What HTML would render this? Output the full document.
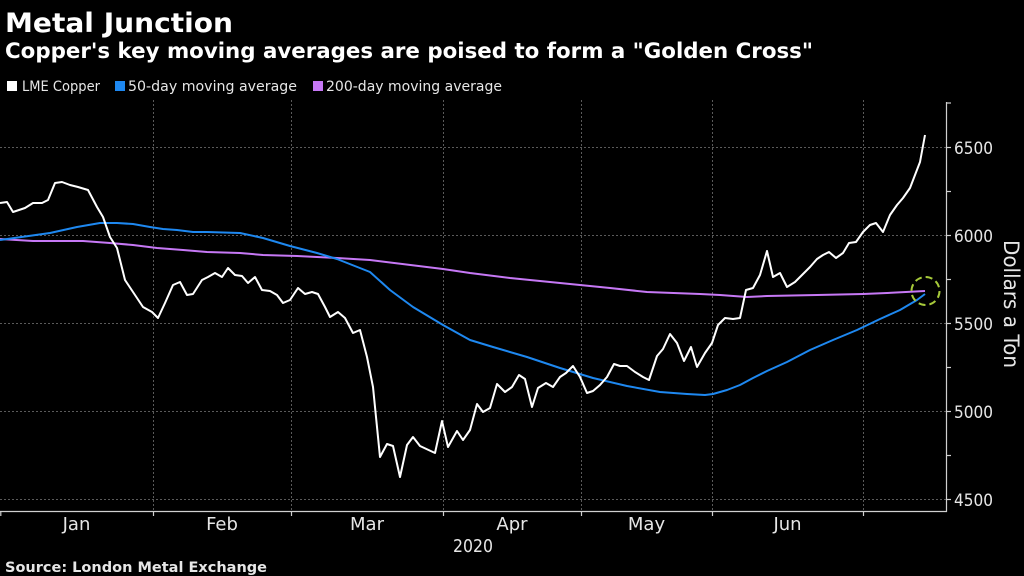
<!DOCTYPE html>
<html>
<head>
<meta charset="utf-8">
<style>
html,body{margin:0;padding:0;background:#000;}
svg{display:block;}
text{font-family:"DejaVu Sans","Liberation Sans",sans-serif;}
</style>
</head>
<body>
<svg width="1024" height="576" viewBox="0 0 1024 576" xmlns="http://www.w3.org/2000/svg">
<rect x="0" y="0" width="1024" height="576" fill="#000"/>

<!-- Titles -->
<text x="5" y="32" font-size="27" font-weight="bold" fill="#fff" textLength="228" lengthAdjust="spacingAndGlyphs">Metal Junction</text>
<text x="5" y="58" font-size="21" font-weight="bold" fill="#fff" textLength="808" lengthAdjust="spacingAndGlyphs">Copper's key moving averages are poised to form a "Golden Cross"</text>

<!-- Legend -->
<rect x="7" y="81" width="10" height="10" fill="#ffffff"/>
<text x="22" y="91" font-size="14" fill="#e6e6e6" textLength="78" lengthAdjust="spacingAndGlyphs">LME Copper</text>
<rect x="115" y="81" width="10" height="10" fill="#1e88f0"/>
<text x="128" y="91" font-size="14" fill="#e6e6e6" textLength="169" lengthAdjust="spacingAndGlyphs">50-day moving average</text>
<rect x="313" y="81" width="10" height="10" fill="#c678f5"/>
<text x="326" y="91" font-size="14" fill="#e6e6e6" textLength="176" lengthAdjust="spacingAndGlyphs">200-day moving average</text>

<!-- Grid -->
<g stroke="#5a5a5a" stroke-width="1" stroke-dasharray="2 2">
<line x1="0" y1="147.5" x2="946" y2="147.5"/>
<line x1="0" y1="235.5" x2="946" y2="235.5"/>
<line x1="0" y1="323.5" x2="946" y2="323.5"/>
<line x1="0" y1="411.5" x2="946" y2="411.5"/>
<line x1="0" y1="499.5" x2="946" y2="499.5"/>
<line x1="153.5" y1="100" x2="153.5" y2="511"/>
<line x1="291.5" y1="100" x2="291.5" y2="511"/>
<line x1="443.5" y1="100" x2="443.5" y2="511"/>
<line x1="581.5" y1="100" x2="581.5" y2="511"/>
<line x1="712.5" y1="100" x2="712.5" y2="511"/>
<line x1="863.5" y1="100" x2="863.5" y2="511"/>
</g>

<!-- Axes -->
<g stroke="#d0d0d0" stroke-width="1.2">
<line x1="946.5" y1="102" x2="946.5" y2="512"/>
<line x1="0" y1="511.5" x2="947" y2="511.5"/>
<line x1="0.8" y1="511" x2="0.8" y2="516"/>
<line x1="153.5" y1="511" x2="153.5" y2="516"/>
<line x1="291.5" y1="511" x2="291.5" y2="516"/>
<line x1="443.5" y1="511" x2="443.5" y2="516"/>
<line x1="581.5" y1="511" x2="581.5" y2="516"/>
<line x1="712.5" y1="511" x2="712.5" y2="516"/>
<line x1="863.5" y1="511" x2="863.5" y2="516"/>
<line x1="946" y1="103" x2="951" y2="103"/>
<line x1="946" y1="147.5" x2="951" y2="147.5"/>
<line x1="946" y1="191.5" x2="951" y2="191.5"/>
<line x1="946" y1="235.5" x2="951" y2="235.5"/>
<line x1="946" y1="279.5" x2="951" y2="279.5"/>
<line x1="946" y1="323.5" x2="951" y2="323.5"/>
<line x1="946" y1="367.5" x2="951" y2="367.5"/>
<line x1="946" y1="411.5" x2="951" y2="411.5"/>
<line x1="946" y1="455.5" x2="951" y2="455.5"/>
<line x1="946" y1="499.5" x2="951" y2="499.5"/>
</g>

<!-- Y labels -->
<g font-size="17" fill="#e6e6e6">
<text x="954" y="154" textLength="39" lengthAdjust="spacingAndGlyphs">6500</text>
<text x="954" y="242" textLength="39" lengthAdjust="spacingAndGlyphs">6000</text>
<text x="954" y="330" textLength="39" lengthAdjust="spacingAndGlyphs">5500</text>
<text x="954" y="418" textLength="39" lengthAdjust="spacingAndGlyphs">5000</text>
<text x="954" y="506" textLength="39" lengthAdjust="spacingAndGlyphs">4500</text>
</g>
<text transform="translate(1004,304) rotate(90)" x="0" y="0" font-size="21" fill="#e6e6e6" text-anchor="middle" textLength="128" lengthAdjust="spacingAndGlyphs">Dollars a Ton</text>

<!-- X labels -->
<g font-size="18" fill="#e6e6e6" text-anchor="middle">
<text x="76.5" y="530">Jan</text>
<text x="222" y="530">Feb</text>
<text x="367" y="530">Mar</text>
<text x="512" y="530">Apr</text>
<text x="646.5" y="530">May</text>
<text x="787.5" y="530">Jun</text>
<text x="473" y="552" textLength="40" lengthAdjust="spacingAndGlyphs">2020</text>
</g>

<!-- Source -->
<text x="5" y="572" font-size="14.5" font-weight="bold" fill="#e6e6e6" textLength="262" lengthAdjust="spacingAndGlyphs">Source: London Metal Exchange</text>

<!-- Series -->
<polyline fill="none" stroke="#c678f5" stroke-width="2" stroke-linejoin="round" points="0,239 33,241 83,241 110,243 133,245 157,248 183,250 207,252 240,253 263,255 297,256 337,258 370,260 443,269 470,273 510,278 560,283 610,288 647,292 700,294 720,295 747,297 767,296 817,295 863,294 887,293 925,291"/>

<polyline fill="none" stroke="#1e88f0" stroke-width="2" stroke-linejoin="round" points="0,240 50,233 77,227 100,223 117,223 133,224 150,227 163,229 177,230 193,232 207,232 240,233 263,238 290,246 317,253 337,259 370,272 390,290 413,307 443,325 470,340 493,347 527,357 560,368 593,378 627,386 660,392 687,394 705,395 713,394 727,390 740,385 753,378 767,371 787,362 810,350 833,340 857,330 880,319 900,310 917,300 925,294"/>

<polyline fill="none" stroke="#ffffff" stroke-width="2" stroke-linejoin="round" points="0,203 7,202 13,212 25,208 33,203 42,203 48,200 55,183 62,182 70,185 78,187 88,190 97,207 103,217 110,237 117,248 125,280 137,298 143,307 152,312 158,318 165,303 173,285 180,282 187,295 193,294 202,280 208,277 215,273 222,277 228,268 235,275 242,276 248,283 255,277 262,290 270,291 277,295 283,303 290,300 298,288 305,294 312,292 318,294 325,307 330,317 338,312 345,318 353,333 360,330 367,357 373,387 380,457 387,444 393,446 400,477 407,445 413,437 420,446 435,453 442,421 448,447 457,431 463,440 470,430 477,404 483,412 490,408 497,384 505,392 512,387 519,375 525,379 532,407 538,388 546,383 553,387 560,377 566,373 573,366 580,377 587,393 593,391 600,385 607,377 614,364 620,366 627,366 635,372 643,377 649,380 657,356 663,349 670,334 677,343 684,361 691,347 697,367 705,353 712,343 718,325 725,318 733,319 740,318 746,290 753,288 760,275 767,251 773,277 780,273 787,287 795,282 803,274 810,267 817,259 823,255 829,252 836,258 843,253 849,243 856,242 863,232 870,225 876,223 883,232 890,215 897,205 903,198 910,188 915,175 920,162 925,135"/>

<!-- Golden cross marker -->
<circle cx="925.5" cy="291" r="14" fill="none" stroke="#a6c93a" stroke-width="2" stroke-dasharray="7 4"/>
</svg>
</body>
</html>
